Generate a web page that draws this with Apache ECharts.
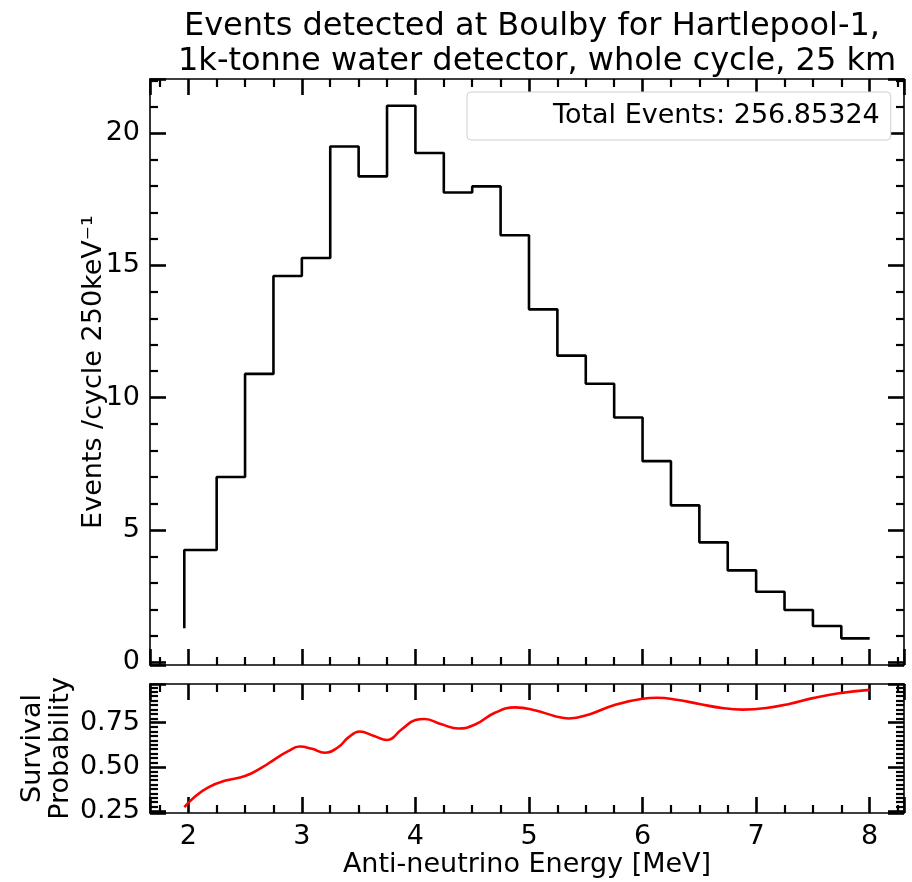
<!DOCTYPE html>
<html>
<head>
<meta charset="utf-8">
<script src="https://cdn.jsdelivr.net/npm/echarts@6/dist/echarts.min.js"></script>
<style>html,body{margin:0;padding:0;background:#fff}#c{width:912px;height:882px}</style>
</head>
<body>
<div id="c"></div>
<script>
// ---- data ----
const titleLines = ['Events detected at Boulby for Hartlepool-1,', ' 1k-tonne water detector, whole cycle, 25 km'];
const totalEvents = '256.85324';
// histogram step edges (MeV) and event counts (step drawn "pre": value i spans edge i-1 .. edge i)
const energies = [1.965, 2.25, 2.5, 2.75, 3.0, 3.25, 3.5, 3.75, 4.0, 4.25, 4.5, 4.75, 5.0, 5.25, 5.5, 5.75, 6.0, 6.25, 6.5, 6.75, 7.0, 7.25, 7.5, 7.75, 8.0];
const events = [1.28, 4.24, 7.0, 10.9, 14.6, 15.28, 19.5, 18.37, 21.04, 19.25, 17.76, 17.99, 16.14, 13.34, 11.59, 10.53, 9.25, 7.6, 5.93, 4.53, 3.47, 2.66, 1.97, 1.37, 0.9];
// survival probability curve
const probE = [1.965, 2.06, 2.18, 2.32, 2.5, 2.65, 2.76, 2.88, 2.98, 3.09, 3.2, 3.32, 3.41, 3.51, 3.63, 3.75, 3.88, 4.0, 4.08, 4.23, 4.38, 4.53, 4.70, 4.88, 5.06, 5.23, 5.35, 5.53, 5.76, 6.0, 6.13, 6.30, 6.50, 6.70, 6.88, 7.09, 7.29, 7.50, 7.73, 8.0];
const probP = [0.272, 0.333, 0.385, 0.421, 0.448, 0.497, 0.543, 0.589, 0.615, 0.602, 0.58, 0.611, 0.667, 0.70, 0.676, 0.652, 0.713, 0.765, 0.771, 0.741, 0.717, 0.741, 0.806, 0.837, 0.819, 0.787, 0.774, 0.797, 0.852, 0.886, 0.891, 0.880, 0.856, 0.833, 0.824, 0.833, 0.856, 0.889, 0.917, 0.936];
const xTickLabels = ['2', '3', '4', '5', '6', '7', '8'];
const yTopTickLabels = ['0', '5', '10', '15', '20'];
const yBotTickLabels = ['0.25', '0.50', '0.75'];

const FONT = 'DejaVu Sans';
const FS = 27;
const X_MIN = 1.663, X_MAX = 8.302;

function fmtFrom(list, digits) {
  return function (v) {
    const s = digits ? v.toFixed(digits) : String(Math.round(v * 1000) / 1000);
    return list.indexOf(s) >= 0 ? s : '';
  };
}

function baseAxis(extra) {
  return Object.assign({
    type: 'value',
    axisLine: { show: true, onZero: false, lineStyle: { color: '#000', width: 1.6 } },
    axisTick: { show: true, inside: true, length: 16, lineStyle: { color: '#000', width: 2.6 } },
    minorTick: { show: true, length: 8, lineStyle: { color: '#000', width: 2.2 } },
    splitLine: { show: false },
    minorSplitLine: { show: false },
    axisLabel: { show: false, color: '#000', fontFamily: FONT, fontSize: FS, margin: 10 }
  }, extra);
}

const chart = echarts.init(document.getElementById('c'), null, { renderer: 'canvas' });

const grids = [
  { left: 150, top: 79, width: 754, height: 586 },
  { left: 150, top: 684, width: 754, height: 129 }
];

function xAxisFor(gridIndex, position, labels, name) {
  const a = baseAxis({
    gridIndex: gridIndex, position: position, min: X_MIN, max: X_MAX,
    minInterval: 1, maxInterval: 1,
  });
  a.minorTick.splitNumber = 4;
  if (labels) {
    a.axisLabel.show = true;
    a.axisLabel.formatter = fmtFrom(xTickLabels, 0);
    a.axisLabel.showMinLabel = false; a.axisLabel.showMaxLabel = false;
  }
  if (name) {
    a.name = name; a.nameLocation = 'middle'; a.nameGap = 38;
    a.nameMoveOverlap = false;
    a.nameTextStyle = { color: '#000', fontFamily: FONT, fontSize: FS };
  }
  return a;
}

function yAxisFor(gridIndex, position, min, max, interval, minorSplit, labels, fmt, name, nameGap) {
  const a = baseAxis({
    gridIndex: gridIndex, position: position, min: min, max: max,
    minInterval: interval, maxInterval: interval
  });
  a.minorTick.splitNumber = minorSplit;
  if (labels) {
    a.axisLabel.show = true;
    a.axisLabel.formatter = fmt;
    a.axisLabel.showMinLabel = false; a.axisLabel.showMaxLabel = false;
  }
  if (name) {
    a.name = name; a.nameLocation = 'middle'; a.nameGap = nameGap; a.nameRotate = 90;
    a.nameMoveOverlap = false;
    a.nameTextStyle = { color: '#000', fontFamily: FONT, fontSize: FS, lineHeight: 28 };
  }
  return a;
}

const seriesName = 'Total Events: ' + totalEvents;

const option = {
  backgroundColor: '#fff',
  animation: false,
  title: {
    text: titleLines.join('\n'),
    left: 527, top: 4, textAlign: 'center',
    textStyle: { color: '#000', fontFamily: FONT, fontSize: 32, fontWeight: 'normal', lineHeight: 35 }
  },
  legend: {
    data: [seriesName],
    left: 467, top: 92,
    padding: [10, 11, 10, 10],
    itemWidth: 71, itemHeight: 14,
    icon: 'rect',
    itemStyle: { opacity: 0 },
    lineStyle: { opacity: 0 },
    selectedMode: false,
    backgroundColor: '#fff',
    borderColor: '#d0d0d0', borderWidth: 1, borderRadius: 4,
    textStyle: { color: '#000', fontFamily: FONT, fontSize: FS, lineHeight: 28 }
  },
  grid: grids,
  xAxis: [
    xAxisFor(0, 'bottom', false, null),
    xAxisFor(0, 'top', false, null),
    xAxisFor(1, 'bottom', true, 'Anti-neutrino Energy [MeV]'),
    xAxisFor(1, 'top', false, null)
  ],
  yAxis: [
    yAxisFor(0, 'left', -0.107, 22.05, 5, 5, true, fmtFrom(yTopTickLabels, 0), 'Events /cycle 250keV\u207B\u00B9', 42),
    yAxisFor(0, 'right', -0.107, 22.05, 5, 5, false, null, null, 0),
    yAxisFor(1, 'left', 0.239, 0.969, 0.25, 10, true, fmtFrom(yBotTickLabels, 2), 'Survival\nProbability', 75),
    yAxisFor(1, 'right', 0.239, 0.969, 0.25, 10, false, null, null, 0)
  ],
  series: [
    {
      name: seriesName,
      type: 'line', step: 'start',
      xAxisIndex: 0, yAxisIndex: 0,
      showSymbol: false, symbol: 'none',
      lineStyle: { color: '#000', width: 2.6 },
      itemStyle: { color: '#000' },
      data: energies.map((e, i) => [e, events[i]])
    },
    {
      name: 'Survival Probability',
      type: 'line', smooth: 0.45,
      xAxisIndex: 2, yAxisIndex: 2,
      showSymbol: false, symbol: 'none',
      lineStyle: { color: '#ff0000', width: 2.6 },
      itemStyle: { color: '#ff0000' },
      data: probE.map((e, i) => [e, probP[i]])
    }
  ]
};
chart.setOption(option);
</script>
</body>
</html>
